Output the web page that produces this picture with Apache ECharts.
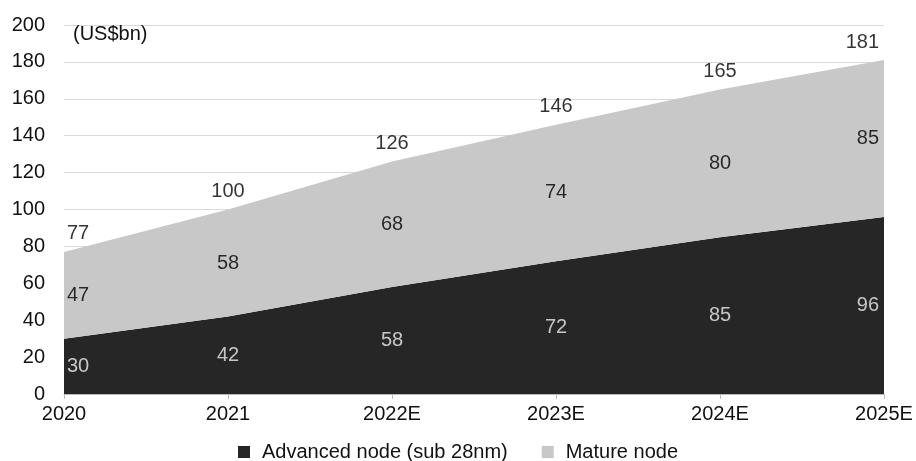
<!DOCTYPE html>
<html><head><meta charset="utf-8">
<script src="https://cdn.jsdelivr.net/npm/echarts@6/dist/echarts.min.js"></script>
<style>html,body{margin:0;padding:0;background:#fff}#c{width:916px;height:461px}</style>
</head><body><div id="c"></div>
<script>
const categories = ['2020', '2021', '2022E', '2023E', '2024E', '2025E'];
const advanced = [30, 42, 58, 72, 85, 96];
const mature = [47, 58, 68, 74, 80, 85];
const totals = [77, 100, 126, 146, 165, 181];
const yTicks = [0, 20, 40, 60, 80, 100, 120, 140, 160, 180, 200];

const FONT = '"Liberation Sans", Arial, sans-serif';
const last = categories.length - 1;
function edgeLabel(i, base) {
  if (i === 0) return Object.assign({}, base, {align: 'left', offset: [3, 0]});
  if (i === last) return Object.assign({}, base, {align: 'right', offset: [-5, 0]});
  return base;
}
const advLabels = categories.map((c, i) => ({
  value: [c, advanced[i] / 2], label: edgeLabel(i, {}), labelText: advanced[i]
}));
const matLabels = categories.map((c, i) => ({
  value: [c, advanced[i] + mature[i] / 2], label: edgeLabel(i, {}), labelText: mature[i]
}));
const totLabels = categories.map((c, i) => ({
  value: [c, totals[i]], label: edgeLabel(i, {}), labelText: totals[i]
}));

const chart = echarts.init(document.getElementById('c'));
chart.setOption({
  animation: false,
  textStyle: {fontFamily: FONT},
  title: {text: '(US$bn)', left: 68, top: 19, textStyle: {fontFamily: FONT, fontSize: 20, fontWeight: 'normal', color: '#111'}},
  grid: {left: 64, right: 32, top: 25, bottom: 67},
  legend: {
    bottom: -6, left: 'center', itemWidth: 12, itemHeight: 12, itemGap: 34,
    icon: 'rect',
    textStyle: {fontFamily: FONT, fontSize: 20, color: '#111', padding: [0, 0, 0, 7]},
    data: ['Advanced node (sub 28nm)', 'Mature node']
  },
  xAxis: {
    type: 'category', data: categories, boundaryGap: false,
    axisLine: {show: true, lineStyle: {color: '#bbb'}},
    axisTick: {show: true, length: 5, lineStyle: {color: '#bbb'}},
    axisLabel: {fontFamily: FONT, fontSize: 20, color: '#111', margin: 10}
  },
  yAxis: {
    type: 'value', min: yTicks[0], max: yTicks[yTicks.length - 1], interval: 20,
    axisLine: {show: false}, axisTick: {show: false},
    splitLine: {lineStyle: {color: '#d9d9d9'}},
    axisLabel: {fontFamily: FONT, fontSize: 20, color: '#111', margin: 19}
  },
  series: [
    {name: 'Advanced node (sub 28nm)', type: 'line', stack: 't', data: advanced,
     symbol: 'none', lineStyle: {width: 0}, itemStyle: {color: '#262626'},
     areaStyle: {color: '#262626', opacity: 1}, z: 2},
    {name: 'Mature node', type: 'line', stack: 't', data: mature,
     symbol: 'none', lineStyle: {width: 0}, itemStyle: {color: '#c8c8c8'},
     areaStyle: {color: '#c8c8c8', opacity: 1}, z: 2},
    {type: 'scatter', data: advLabels, symbolSize: 0, z: 5, silent: true,
     label: {show: true, position: 'inside', fontFamily: FONT, fontSize: 20, color: '#eeeeee',
       formatter: p => p.data.labelText}},
    {type: 'scatter', data: matLabels, symbolSize: 0, z: 5, silent: true,
     label: {show: true, position: 'inside', fontFamily: FONT, fontSize: 20, color: '#000',
       formatter: p => p.data.labelText}},
    {type: 'scatter', data: totLabels, symbolSize: 0, z: 5, silent: true,
     label: {show: true, position: 'top', distance: 8, fontFamily: FONT, fontSize: 20, color: '#000',
       formatter: p => p.data.labelText}}
  ]
});
</script></body></html>
